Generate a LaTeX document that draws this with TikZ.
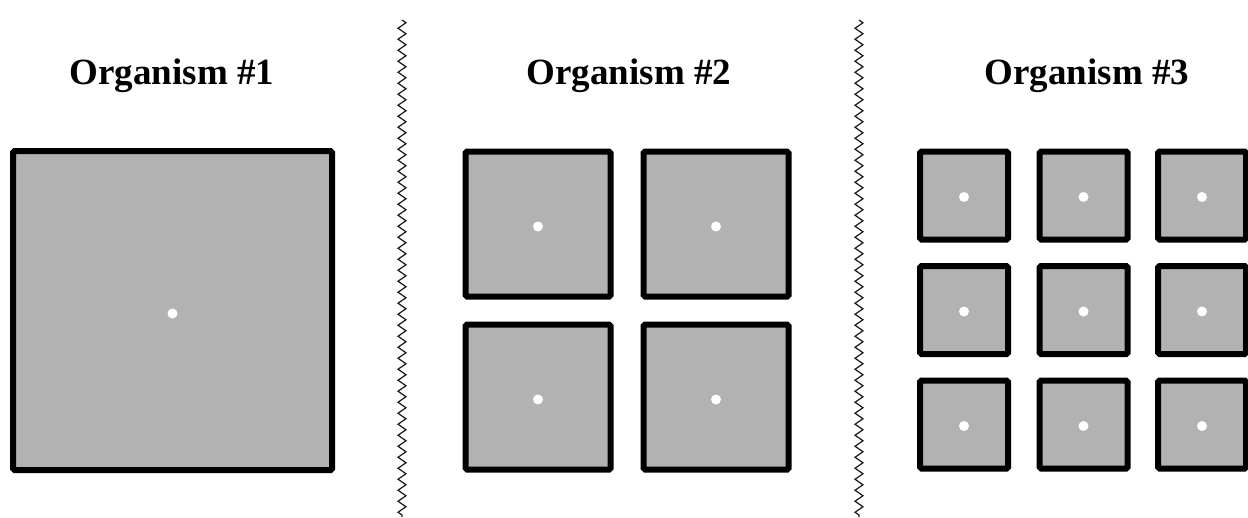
\documentclass[tikz,border=0pt]{standalone}
\usepackage{fontspec}
\setmainfont{Liberation Serif}
\usetikzlibrary{decorations.pathmorphing}
\tikzset{
    orgtitle/.style={anchor=base, font=\fontsize{37}{40}\selectfont\bfseries},
    orgcell/.style={draw, line width=6pt, rounded corners=1.5pt, fill=black!30, inner sep=0pt},
    orgbig/.style={orgcell, minimum size=319pt},
    orgmid/.style={orgcell, minimum size=145pt},
    orgsmall/.style={orgcell, minimum size=88pt},
    orgnucleus/.style={fill=white},
    orgdivider/.style={draw=black!90, line width=1.2pt, decorate, decoration={zigzag, segment length=11pt, amplitude=4pt}}
}

\begin{document}
\begin{tikzpicture}[x=1pt, y=-1pt]
    \useasboundingbox (0,0) rectangle (1248,517);

    \node[orgtitle] (title1) at (172,84) {Organism \#1};
    \node[orgtitle] (title2) at (629,84) {Organism \#2};
    \node[orgtitle] (title3) at (1087,84) {Organism \#3};

    \draw[orgdivider] (402,20) -- (402,517);
    \draw[orgdivider] (859,20) -- (859,517);

    % one big cell
    \node[orgbig] (big) at (172.5,310.5) {};
    \fill[orgnucleus] ([yshift=-3pt]big.center) circle (5pt);

    % four cells
    \foreach \c/\x in {1/538, 2/716}
        \foreach \r/\y in {1/224, 2/397}
        {
            \node[orgmid] (mid\r\c) at (\x,\y) {};
            \fill[orgnucleus] ([yshift=-2.5pt]mid\r\c.center) circle (5pt);
        }

    % nine cells
    \foreach \c/\x in {1/964, 2/1083.5, 3/1202}
        \foreach \r/\y in {1/195.5, 2/310, 3/424.5}
        {
            \node[orgsmall] (small\r\c) at (\x,\y) {};
            \fill[orgnucleus] ([yshift=-1.5pt]small\r\c.center) circle (5pt);
        }
\end{tikzpicture}
\end{document}
